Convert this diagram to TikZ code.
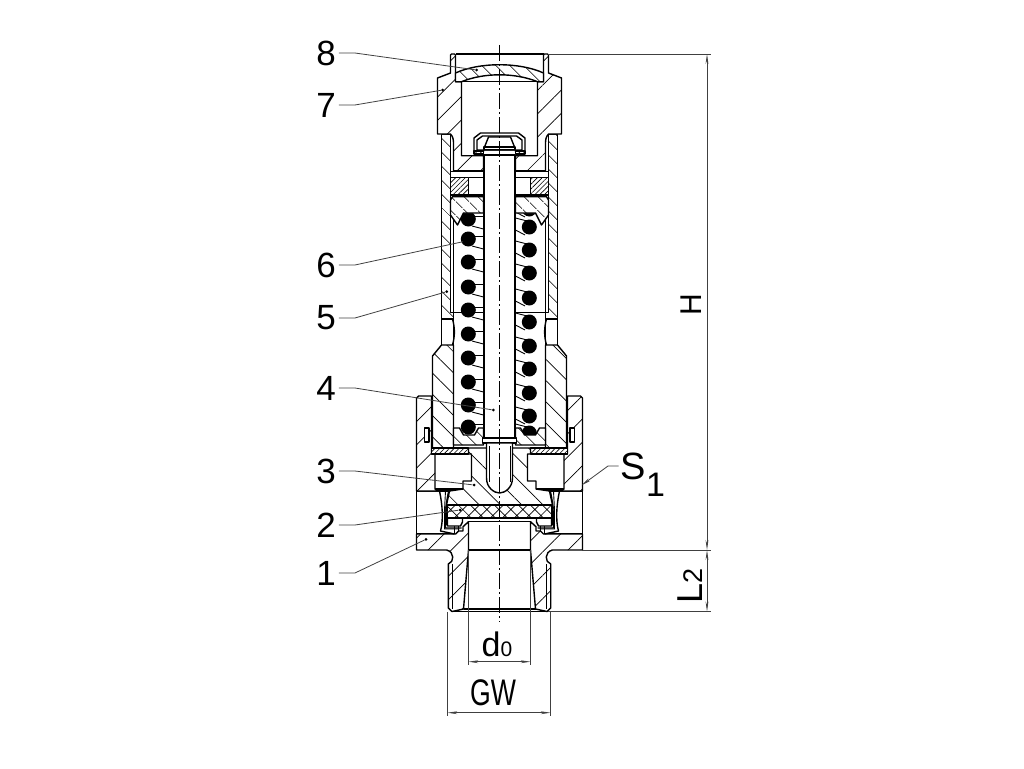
\documentclass[tikz,border=0pt]{standalone}
\usepackage{graphicx}
\usepackage{fontspec}
\setmainfont{Liberation Sans}
\usetikzlibrary{patterns.meta,arrows.meta}
\pgfdeclarelayer{background}
\pgfdeclarelayer{foreground}
\pgfsetlayers{background,main,foreground}
\newcommand{\labfont}[1]{\fontsize{#1}{#1}\selectfont}
\begin{document}
\begin{tikzpicture}[x=1pt,y=-1pt,
	part/.style={draw=black, line width=1.4pt, line join=round, fill=white},
	edge/.style={draw=black, line width=1.4pt, line join=round},
	wide/.style={postaction={pattern={Lines[angle=45,distance=16.5pt,line width=.7pt]}}},
	back/.style={postaction={pattern={Lines[angle=-45,distance=15pt,line width=.7pt]}}},
	narrow/.style={postaction={pattern={Lines[angle=-45,distance=10.5pt,line width=.7pt]}}},
	dense/.style={postaction={pattern={Lines[angle=45,distance=3.4pt,line width=.6pt]}}},
	cross/.style={postaction={pattern={Hatch[angle=45,distance=8.5pt,line width=.7pt]}}},
	thinline/.style={draw=black, line width=.9pt},
	leader/.style={draw=black!75, line width=.8pt},
	dimline/.style={draw=black!75, line width=.8pt},
	dimarrow/.style={dimline, {Stealth[length=10pt,width=2.8pt]}-{Stealth[length=10pt,width=2.8pt]}},
	tipdot/.style={fill=black, circle, inner sep=0pt, minimum size=3pt},
	numlabel/.style={inner sep=0pt, font=\labfont{35}},
	]
	\useasboundingbox (0,0) rectangle (1024,768);

	%Coil
	\foreach \y in {219,239,262,287,310,334,358,382,405}{
		\fill (468.3,\y) circle (7.5pt);
		\draw[thinline] (472,\y-3) -- (483.5,\y-3);
		\draw[thinline] (472,\y+7) -- (483.5,\y+10);
	}
	\foreach \y in {209,227,250,273,298,322,346,369,393,416,433}{
		\fill (529.3,\y) circle (7.5pt);
		\draw[thinline] (515.5,\y-9) -- (527,\y-6);
		\draw[thinline] (515.5,\y+3) -- (525,\y+8);
	}

	%Body, one half after the other
	\foreach \s in {-1,1}{
		\begin{scope}[shift={(499.5,0)},xscale=\s]
			%flats and lower neck
			\draw[part] (83,491) rectangle (45,534);
			\draw[part,wide] (83,534) -- (44,534) -- (41,531) -- (36.5,531) -- (36.5,526.7) -- (31,521.7) -- (31,550) -- (36,609) -- (47.5,611.5) -- (51.2,608) -- (51.2,564) .. controls (45,562) and (45,552) .. (52.8,550) -- (83,550) -- cycle;
			\draw[thinline] (46.8,564) -- (46.8,609);
			%collar
			\draw[part,wide] (83,398) -- (81,396) -- (68,396) -- (68,454) -- (64.5,454) -- (64.5,489) -- (60,491) -- (83,491) -- cycle;
			\draw[part] (70.5,428) rectangle (75,442);
			%seat wall
			\draw[edge] (60,491) .. controls (57,505) and (56,520) .. (59,531) -- (45,534);
			\draw[thinline] (54,491) -- (55,510) -- (55,529) -- (40,529);
			\draw[edge] (50.5,490) .. controls (53,500) and (54,510) .. (54,528) -- (38,528);
			\draw[line width=.6pt,dense] (50.5,491) -- (53,505) -- (53,525) -- (54.5,525) -- (54.5,510) -- cycle;
			\draw[part] (52,518) -- (52,526) -- (39,526) -- (37,522) -- (37,518) -- cycle;
			\draw[thinline] (41,526) -- (41,532);
			\draw[edge] (64.5,489) -- (36.5,489);
			%spring housing
			\draw[part,narrow] (49,134) -- (58,134) -- (58,319) -- (46,319) -- (46,312.7) -- (49,312.7) -- cycle;
			\draw[edge] (46,134) -- (46,312.7) -- (16,312.7);
			\draw[edge] (58,319) -- (58,345);
			\draw[edge] (47,319) .. controls (44.5,328) and (44.5,336) .. (47,345);
			\draw[part,back] (46,345) -- (58,345) -- (67,356) -- (67,448) -- (46,448) -- cycle;
			\draw[edge] (46,319) -- (46,345);
			%cap
			\draw[part,wide] (44,55) -- (45,54) -- (48,54) -- (49,55) -- (49,73) -- (62,78) -- (62,134) -- (49,134) .. controls (46,137) and (46,141) .. (46,144) -- (46,170.7) -- (16,170.7) -- (16,155.7) -- (38,155.7) -- (38,81.7) -- (44,81.7) -- cycle;
			%washer and spring plates
			\draw[part] (49,171.7) rectangle (16,177.3);
			\draw[part] (31,177.3) rectangle (16,195);
			\draw[part,dense] (49,177.3) rectangle (31,195);
			\draw[part,narrow] (16,196.7) -- (47,196.7) -- (49,200) -- (49,215) -- (42,225) -- (36,213) -- (16,213) -- cycle;
			\draw[part,narrow] (46,445) -- (46,428) -- (40,428) -- (36,435) -- (25,435) -- (21,428) -- (16,428) -- (16,445) -- cycle;
			\draw[part,dense] (31,448) rectangle (68,454);
		\end{scope}
	}
	%Coil turn lying on the lower plate
	\fill (468.3,427) circle (7.5pt);
	\draw[thinline] (472,424) -- (483.5,424);

	\begin{scope}[shift={(499.5,0)}]
		%valve disc
		\draw[part,back] (-31,448) -- (31,448) -- (31,454) -- (28,454) -- (28,481) -- (36.5,481) -- (36.5,489) -- (50,491) -- (53,505) -- (-53,505) -- (-50,491) -- (-36.5,489) -- (-36.5,481) -- (-28,481) -- (-28,454) -- (-31,454) -- cycle;
		\draw[part,cross] (-52,505) rectangle (52,518);
		\draw[edge] (-31,521.7) -- (31,521.7);
		\draw[edge] (-31,550) -- (31,550);
		\draw[edge] (-36,609) -- (36,609);
		\draw[edge] (-47.5,611.5) -- (47.5,611.5);
		%stem
		\draw[part] (-15.5,155) rectangle (15.5,438);
		\draw[part] (-17,438) rectangle (17,443);
		\draw[part] (-13,443) -- (-13,478) .. controls (-13,488) and (-5,493) .. (0,493) .. controls (5,493) and (13,488) .. (13,478) -- (13,443) -- cycle;
		\draw[thinline] (-10.5,446) -- (-10.5,482) (10.5,446) -- (10.5,482);
		%stem head with its nut
		\draw[part] (-25.5,152) -- (-25.5,138) -- (-19,133) -- (19,133) -- (25.5,138) -- (25.5,152) -- (16,152) -- (16,150) -- (-16,150) -- (-16,152) -- cycle;
		\draw[part] (-22.5,150) -- (-22.5,140) -- (-17,136) -- (17,136) -- (22.5,140) -- (22.5,150) -- cycle;
		\draw[part] (-15,147) -- (-11,137) -- (11,137) -- (15,147) -- cycle;
		\draw[part] (-15.5,147) rectangle (15.5,149.5);
		\draw[part,dense] (-25.5,151) rectangle (-16,154);
		\draw[part,dense] (16,151) rectangle (25.5,154);
		%cover plate
		\draw[edge] (-44,54) -- (44,54);
		\draw[part,narrow] (-44,73) .. controls (-20,62) and (20,62) .. (44,73) -- (44,81.7) -- (38,81.7) .. controls (15,72.5) and (-15,72.5) .. (-38,81.7) -- (-44,81.7) -- cycle;
		\draw[edge] (-38,81.7) -- (38,81.7);
	\end{scope}

	%Nodes
	\node[numlabel] (lab8) at (326,53)  {8};
	\node[numlabel] (lab7) at (326,105) {7};
	\node[numlabel] (lab6) at (326,265) {6};
	\node[numlabel] (lab5) at (326,318) {5};
	\node[numlabel] (lab4) at (326,388) {4};
	\node[numlabel] (lab3) at (326,471) {3};
	\node[numlabel] (lab2) at (326,525) {2};
	\node[numlabel] (lab1) at (326,573) {1};
	\node[tipdot] (dot8) at (476.7,70)  {};
	\node[tipdot] (dot7) at (442.7,90)  {};
	\coordinate   (dot6) at (463,241.7);
	\node[tipdot] (dot5) at (446.7,291.7) {};
	\node[tipdot] (dot4) at (493.3,410) {};
	\node[tipdot] (dot3) at (474,485)  {};
	\node[tipdot] (dot2) at (460,510)  {};
	\node[tipdot] (dot1) at (426,539.3) {};

	\node[inner sep=0pt, font=\labfont{38}] (labS) at (643,475) {S\raisebox{-17pt}{\labfont{34}1}};
	\node[inner sep=0pt, rotate=90, font=\labfont{30}] (labH) at (691.5,305) {H};
	\node[inner sep=0pt, rotate=90, font=\labfont{36}] (labL) at (690,586) {L\labfont{27}2};
	\node[inner sep=0pt, font=\labfont{34}] (labd) at (497,644) {d\labfont{21}0};
	\node[inner sep=0pt, font=\labfont{37}] (labG) at (493,693) {\scalebox{.72}[1]{GW}};

	\coordinate (htop) at (707,54);
	\coordinate (hbot) at (707,550);
	\coordinate (lbot) at (707,611.5);
	\coordinate (dleft) at (468.3,661.7);
	\coordinate (dright) at (530.7,661.7);
	\coordinate (gleft) at (447.3,712.7);
	\coordinate (gright) at (550.7,712.7);
	\coordinate (stip) at (582,485);

	\begin{pgfonlayer}{foreground}
		%Lines
		\foreach \n in {8,7,6,5,4,3,2,1}{
			\draw[leader] (lab\n.east)+(3,0) -- ++(19,0) -- (dot\n);
		}
		\draw[leader,-{Stealth[length=9pt,width=3pt]}] (labS.west |- 0,466) ++(-2,0) -- (608,466) -- (stip);
		\draw[thinline,line width=.7pt,dash pattern=on 16pt off 3pt on 2pt off 3pt] (499.5,45) -- (499.5,622);
		\draw[dimline] (548,54) -- (711,54);
		\draw[dimline] (582,550) -- (711,550);
		\draw[dimline] (548,611.5) -- (711,611.5);
		\draw[dimarrow] (htop) -- (hbot);
		\draw[dimarrow] (hbot) -- (lbot);
		\draw[dimline] (468.3,550) -- (468.3,665);
		\draw[dimline] (530.7,550) -- (530.7,665);
		\draw[dimline] (447.3,612) -- (447.3,716);
		\draw[dimline] (550.7,612) -- (550.7,716);
		\draw[dimarrow] (dleft) -- (dright);
		\draw[dimarrow] (gleft) -- (gright);
	\end{pgfonlayer}
\end{tikzpicture}
\end{document}
